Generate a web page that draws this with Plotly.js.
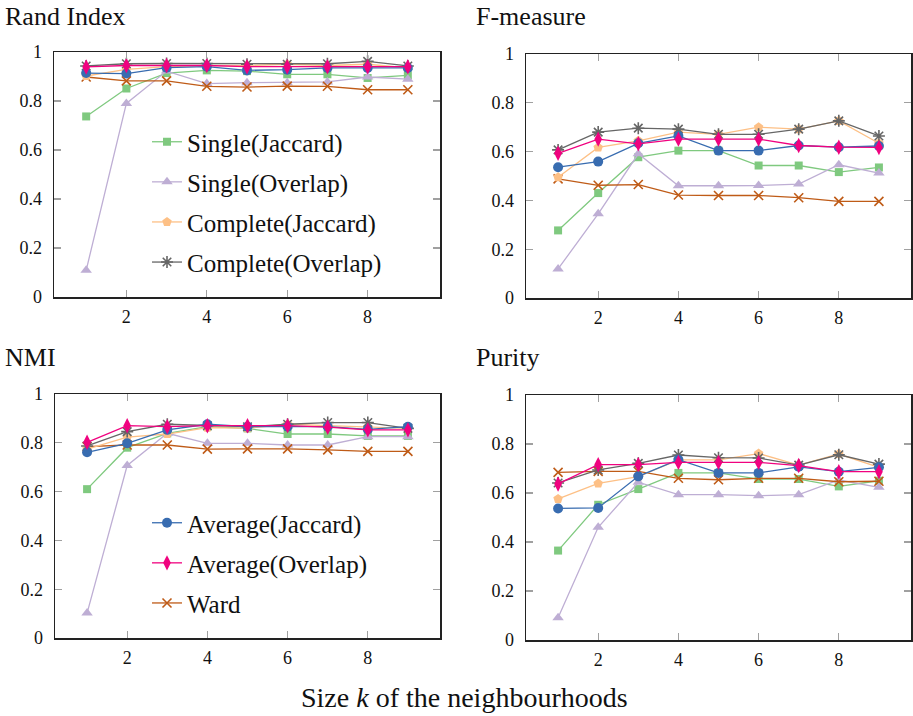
<!DOCTYPE html>
<html>
<head>
<meta charset="utf-8">
<script src="https://cdn.plot.ly/plotly-3.0.1.min.js"></script>
<style>html,body{margin:0;padding:0;background:#fff;}#chart{width:913px;height:716px;}</style>
</head>
<body>
<div id="chart"></div>
<script>
// Neighbourhood size k
const kValues = [1, 2, 3, 4, 5, 6, 7, 8, 9];
const methodNames = ["Single(Jaccard)", "Single(Overlap)", "Complete(Jaccard)", "Complete(Overlap)",
                     "Average(Jaccard)", "Average(Overlap)", "Ward"];
const panelTitles = ["Rand Index", "F-measure", "NMI", "Purity"];
const yTickValues = [0, 0.2, 0.4, 0.6, 0.8, 1];
const yTickLabels = ["0", "0.2", "0.4", "0.6", "0.8", "1"];
const xTickValues = [2, 4, 6, 8];

// Rand Index
const randSingleJ   = [0.737, 0.851, 0.914, 0.925, 0.922, 0.909, 0.909, 0.894, 0.905];
const randSingleO   = [0.109, 0.790, 0.922, 0.871, 0.875, 0.875, 0.878, 0.898, 0.889];
const randCompleteJ = [0.902, 0.929, 0.940, 0.945, 0.945, 0.950, 0.945, 0.950, 0.935];
const randCompleteO = [0.943, 0.952, 0.953, 0.953, 0.950, 0.950, 0.952, 0.962, 0.943];
const randAverageJ  = [0.914, 0.912, 0.936, 0.940, 0.925, 0.928, 0.935, 0.935, 0.935];
const randAverageO  = [0.939, 0.945, 0.945, 0.945, 0.940, 0.940, 0.940, 0.940, 0.940];
const randWard      = [0.898, 0.882, 0.882, 0.860, 0.857, 0.861, 0.860, 0.846, 0.846];

// F-measure
const fSingleJ   = [0.277, 0.430, 0.577, 0.604, 0.604, 0.543, 0.543, 0.516, 0.535];
const fSingleO   = [0.119, 0.345, 0.591, 0.460, 0.460, 0.461, 0.467, 0.546, 0.512];
const fCompleteJ = [0.495, 0.617, 0.644, 0.680, 0.671, 0.700, 0.692, 0.726, 0.634];
const fCompleteO = [0.607, 0.680, 0.696, 0.692, 0.671, 0.671, 0.692, 0.726, 0.664];
const fAverageJ  = [0.536, 0.559, 0.634, 0.664, 0.604, 0.604, 0.625, 0.618, 0.623];
const fAverageO  = [0.593, 0.651, 0.632, 0.651, 0.651, 0.651, 0.625, 0.618, 0.617];
const fWard      = [0.488, 0.462, 0.465, 0.422, 0.420, 0.420, 0.411, 0.396, 0.396];

// NMI
const nmiSingleJ   = [0.610, 0.780, 0.839, 0.866, 0.859, 0.836, 0.836, 0.828, 0.828];
const nmiSingleO   = [0.102, 0.707, 0.839, 0.798, 0.798, 0.791, 0.791, 0.825, 0.825];
const nmiCompleteJ = [0.774, 0.823, 0.836, 0.862, 0.860, 0.876, 0.870, 0.865, 0.859];
const nmiCompleteO = [0.787, 0.846, 0.876, 0.870, 0.866, 0.876, 0.883, 0.883, 0.859];
const nmiAverageJ  = [0.761, 0.798, 0.853, 0.876, 0.866, 0.866, 0.866, 0.855, 0.866];
const nmiAverageO  = [0.802, 0.870, 0.866, 0.870, 0.870, 0.870, 0.864, 0.853, 0.853];
const nmiWard      = [0.784, 0.791, 0.791, 0.774, 0.775, 0.775, 0.771, 0.765, 0.765];

// Purity
const purSingleJ   = [0.365, 0.552, 0.616, 0.682, 0.682, 0.657, 0.657, 0.627, 0.650];
const purSingleO   = [0.091, 0.460, 0.644, 0.593, 0.593, 0.589, 0.593, 0.653, 0.623];
const purCompleteJ = [0.576, 0.639, 0.667, 0.735, 0.735, 0.761, 0.714, 0.759, 0.705];
const purCompleteO = [0.641, 0.694, 0.721, 0.755, 0.744, 0.743, 0.714, 0.756, 0.718];
const purAverageJ  = [0.537, 0.539, 0.668, 0.736, 0.682, 0.682, 0.707, 0.687, 0.705];
const purAverageO  = [0.637, 0.716, 0.716, 0.725, 0.725, 0.725, 0.712, 0.687, 0.687];
const purWard      = [0.684, 0.688, 0.688, 0.660, 0.654, 0.660, 0.660, 0.646, 0.648];

const panels = [
  [randSingleJ, randSingleO, randCompleteJ, randCompleteO, randAverageJ, randAverageO, randWard],
  [fSingleJ, fSingleO, fCompleteJ, fCompleteO, fAverageJ, fAverageO, fWard],
  [nmiSingleJ, nmiSingleO, nmiCompleteJ, nmiCompleteO, nmiAverageJ, nmiAverageO, nmiWard],
  [purSingleJ, purSingleO, purCompleteJ, purCompleteO, purAverageJ, purAverageO, purWard]
];

const colors  = ["#7fc97f", "#beaed4", "#fdc086", "#666666", "#386cb0", "#f0027f", "#bf5b17"];
const symbols = ["square", "triangle-up", "pentagon", "asterisk-open", "circle", "diamond-tall", "x-thin-open"];
const sizes   = [8, 10, 10, 10, 10, 11, 9];
const lineOnly = [false, false, false, true, false, false, true];

const FONT = "Liberation Serif";
const traces = [];
const drawOrder = [0, 1, 6, 2, 3, 4, 5];
for (let p = 0; p < 4; p++) {
  const sfx = p === 0 ? "" : String(p + 1);
  for (const m of drawOrder) {
    let legendName = null, showLeg = false;
    if (p === 0 && m < 4) { showLeg = true; legendName = "legend"; }
    if (p === 2 && m >= 4) { showLeg = true; legendName = "legend2"; }
    const t = {
      x: kValues, y: panels[p][m], type: "scatter", mode: "lines+markers",
      name: methodNames[m], xaxis: "x" + sfx, yaxis: "y" + sfx,
      line: {color: colors[m], width: 1.3},
      marker: {symbol: symbols[m], size: sizes[m], color: colors[m],
               line: {color: colors[m], width: lineOnly[m] ? 1.6 : 0}},
      showlegend: showLeg, legendgroup: "g" + m, legendrank: m + 1
    };
    if (legendName) t.legend = legendName;
    traces.push(t);
  }
}

const W = 913, H = 716;
function dx(a, b) { return [a / W, b / W]; }
function dy(top, bottom) { return [1 - bottom / H, 1 - top / H]; }

function xAxis(domain, anchor) {
  return {domain: domain, anchor: anchor, range: [0.2, 9.8], tickvals: xTickValues,
    ticks: "inside", ticklen: 7, tickcolor: "#a0a0a0", tickwidth: 1.2,
    showline: true, linecolor: "#222", linewidth: 1.5, mirror: "ticks",
    showgrid: false, zeroline: false, automargin: false, ticklabelstandoff: 3,
    tickfont: {family: FONT, size: 18, color: "#111"}};
}
function yAxis(domain, anchor) {
  return {domain: domain, anchor: anchor, range: [0, 1], tickvals: yTickValues, ticktext: yTickLabels,
    ticks: "inside", ticklen: 7, tickcolor: "#a0a0a0", tickwidth: 1.2,
    showline: true, linecolor: "#222", linewidth: 1.5, mirror: "ticks",
    showgrid: false, zeroline: false, automargin: false, ticklabelstandoff: 7,
    tickfont: {family: FONT, size: 18, color: "#111"}};
}

const legendCommon = {
  font: {family: FONT, size: 25, color: "#111"}, bgcolor: "rgba(255,255,255,0)",
  borderwidth: 0, tracegroupgap: 4.6, xanchor: "left", yanchor: "top",
  itemclick: false
};

const layout = {
  width: W, height: H, margin: {l: 0, r: 0, t: 0, b: 0},
  paper_bgcolor: "#fff", plot_bgcolor: "#fff",
  font: {family: FONT, color: "#111"},
  xaxis: xAxis(dx(54, 440), "y"),   yaxis: yAxis(dy(52, 297), "x"),
  xaxis2: xAxis(dx(526, 911), "y2"), yaxis2: yAxis(dy(54, 298), "x2"),
  xaxis3: xAxis(dx(55, 440), "y3"), yaxis3: yAxis(dy(394, 638), "x3"),
  xaxis4: xAxis(dx(526, 911), "y4"), yaxis4: yAxis(dy(395, 640), "x4"),
  legend: Object.assign({x: 147 / W, y: 1 - 119 / H}, legendCommon),
  legend2: Object.assign({x: 147 / W, y: 1 - 500 / H}, legendCommon),
  annotations: [
    {text: panelTitles[0], x: 3 / W, y: 1 - 17 / H, xref: "paper", yref: "paper", xanchor: "left", yanchor: "middle", showarrow: false, font: {family: FONT, size: 26}},
    {text: panelTitles[1], x: 474 / W, y: 1 - 17 / H, xref: "paper", yref: "paper", xanchor: "left", yanchor: "middle", showarrow: false, font: {family: FONT, size: 26}},
    {text: panelTitles[2], x: 3 / W, y: 1 - 357 / H, xref: "paper", yref: "paper", xanchor: "left", yanchor: "middle", showarrow: false, font: {family: FONT, size: 26}},
    {text: panelTitles[3], x: 474 / W, y: 1 - 357 / H, xref: "paper", yref: "paper", xanchor: "left", yanchor: "middle", showarrow: false, font: {family: FONT, size: 26}},
    {text: "Size <i>k</i> of the neighbourhoods", x: 465 / W, y: 1 - 697 / H, xref: "paper", yref: "paper", xanchor: "center", yanchor: "middle", showarrow: false, font: {family: FONT, size: 28}}
  ]
};

Plotly.newPlot("chart", traces, layout, {staticPlot: true, displayModeBar: false});
</script>
</body>
</html>
